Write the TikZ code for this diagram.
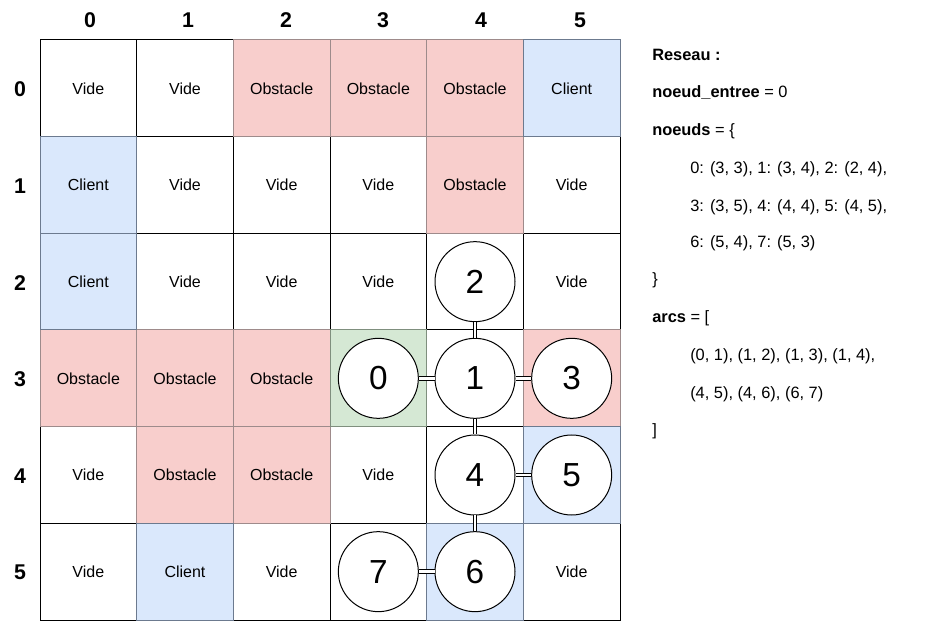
\documentclass[tikz,border=0pt]{standalone}
\usepackage{fontspec}
\setmainfont{Liberation Sans}
\definecolor{obsfill}{HTML}{F8CECC}
\definecolor{obsline}{HTML}{9E8B8B}
\definecolor{clifill}{HTML}{DAE8FC}
\definecolor{cliline}{HTML}{6C7A8F}
\definecolor{entfill}{HTML}{D5E8D4}
\definecolor{entline}{HTML}{7F8F7E}
\begin{document}
\begin{tikzpicture}[x=0.75pt,y=-0.75pt,
 cell/.style={draw=black, line width=0.75pt, minimum size=72.5pt, inner sep=0pt, outer sep=0pt, font=\fontsize{12}{14}\selectfont},
 vide/.style={cell, fill=white},
 obstacle/.style={cell, fill=obsfill, draw=obsline},
 client/.style={cell, fill=clifill, draw=cliline},
 entree/.style={cell, fill=entfill, draw=entline},
 hdr/.style={font=\fontsize{16}{19}\selectfont\bfseries, inner sep=0pt},
 vertex/.style={circle, draw=black, fill=white, line width=0.75pt, minimum size=60pt, inner sep=0pt, font=\fontsize{25}{30}\selectfont},
 arc/.style={double=white, draw=black, line width=0.7pt, double distance=1.9pt},
 info/.style={anchor=west, font=\fontsize{12.3}{14}\selectfont, inner sep=0pt}]
\useasboundingbox (0,0) rectangle (940,623);
% cells: white first, coloured after
\foreach \r/\c/\t/\l in {
 0/0/vide/Vide, 0/1/vide/Vide,
 1/1/vide/Vide, 1/2/vide/Vide, 1/3/vide/Vide, 1/5/vide/Vide,
 2/1/vide/Vide, 2/2/vide/Vide, 2/3/vide/Vide, 2/4/vide/{}, 2/5/vide/Vide,
 3/4/vide/{},
 4/0/vide/Vide, 4/3/vide/Vide, 4/4/vide/{},
 5/0/vide/Vide, 5/2/vide/Vide, 5/3/vide/{}, 5/5/vide/Vide,
 0/2/obstacle/Obstacle, 0/3/obstacle/Obstacle, 0/4/obstacle/Obstacle,
 1/4/obstacle/Obstacle,
 3/0/obstacle/Obstacle, 3/1/obstacle/Obstacle, 3/2/obstacle/Obstacle, 3/5/obstacle/{},
 4/1/obstacle/Obstacle, 4/2/obstacle/Obstacle,
 0/5/client/Client, 1/0/client/Client, 2/0/client/Client, 5/1/client/Client,
 4/5/client/{}, 5/4/client/{},
 3/3/entree/{}}
 {\node[\t] (c\r\c) at ({40+96.667*(\c+0.5)},{40+96.667*(\r+0.5)}) {\l};}
% headers
\foreach \i/\x in {0/90, 1/188, 2/286, 3/383, 4/481, 5/580}{
 \node[hdr] (col\i) at (\x,20) {\i};
}
\foreach \i in {0,...,5}{
 \node[hdr] (row\i) at (20,{41+96.667*(\i+0.5)}) {\i};
}
% graph vertices
\foreach \n/\r/\c in {0/3/3, 1/3/4, 2/2/4, 3/3/5, 4/4/4, 5/4/5, 6/5/4, 7/5/3}
 {\node[vertex] (n\n) at ({40+96.667*(\c+0.5)},{40+96.667*(\r+0.5)}) {\n};}
% arcs
\draw[arc] (n0) -- (n1);
\draw[arc] (n1) -- (n2);
\draw[arc] (n1) -- (n3);
\draw[arc] (n1) -- (n4);
\draw[arc] (n4) -- (n5);
\draw[arc] (n4) -- (n6);
\draw[arc] (n6) -- (n7);
% info panel
\node[info] (t1) at (652,55) {\textbf{Reseau :}};
\node[info] (t2) at (652,93) {\textbf{noeud\_entree} = 0};
\node[info] (t3) at (652,131) {\textbf{noeuds} = \{};
\node[info] (t4) at (690,169) {0: (3, 3), 1: (3, 4), 2: (2, 4),};
\node[info] (t5) at (690,207) {3: (3, 5), 4: (4, 4), 5: (4, 5),};
\node[info] (t6) at (690,243) {6: (5, 4), 7: (5, 3)};
\node[info] (t7) at (652,280) {\}};
\node[info] (t8) at (652,318) {\textbf{arcs} = [};
\node[info] (t9) at (690,356) {(0, 1), (1, 2), (1, 3), (1, 4),};
\node[info] (t10) at (690,394) {(4, 5), (4, 6), (6, 7)};
\node[info] (t11) at (652,431) {]};
\end{tikzpicture}
\end{document}
